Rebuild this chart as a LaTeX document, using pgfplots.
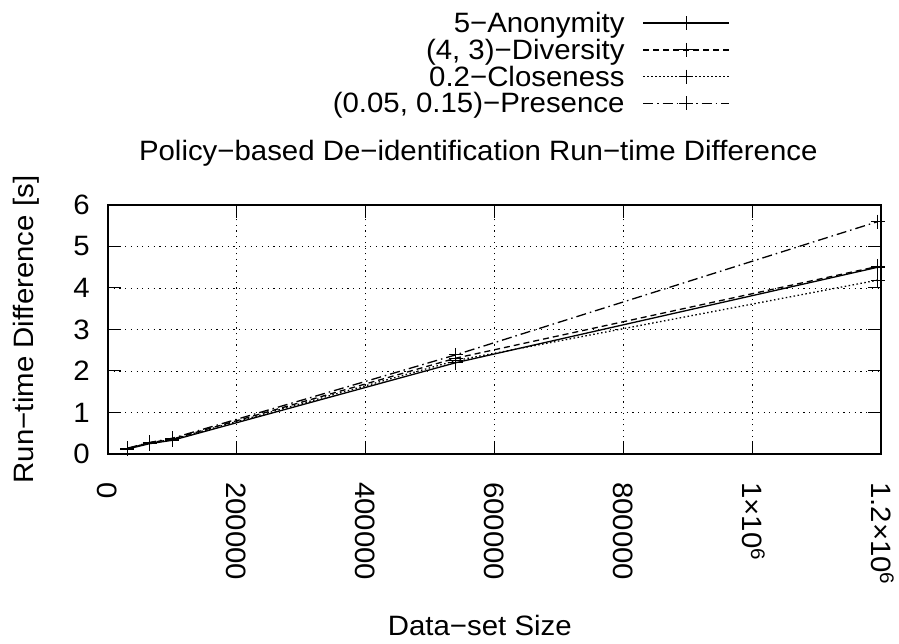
\documentclass[border=0pt]{standalone}
\usepackage{fontspec}
\setmainfont{Liberation Sans}[FakeStretch=1.05]
\usepackage{pgfplots}
\pgfplotsset{compat=1.18}
\newcommand\fsz{\fontsize{28}{33}\selectfont}
\begin{document}
\begin{tikzpicture}
\useasboundingbox (0,0) rectangle (899pt,644pt);
\begin{axis}[
  at={(108pt,190pt)}, anchor=south west,
  scale only axis, width=773pt, height=249pt,
  xmin=0, xmax=1200000, ymin=0, ymax=6,
  scaled x ticks=false, scaled y ticks=false,
  xtick={0,200000,400000,600000,800000,1000000,1200000},
  xticklabels={0,200000,400000,600000,800000,1×10\textsuperscript{6},1.2×10\textsuperscript{6}},
  ytick={0,1,2,3,4,5,6},
  yticklabels={0,1,2,3,4,5,6},
  tick label style={font=\fsz},
  xticklabel style={rotate=-90, anchor=west, inner sep=0pt, text height=20pt, text depth=0pt},
  xticklabel shift=28pt,
  yticklabel style={anchor=east, inner sep=0pt},
  yticklabel shift=18pt,
  tick align=inside, major tick length=13pt,
  xtick pos=both, ytick pos=both,
  tick style={black, line width=1pt},
  axis line style={line width=2pt},
  grid=major,
  major grid style={black, line width=0.9pt, dash pattern=on 1.2pt off 4.5pt},
  title={Policy−based De−identification Run−time Difference},
  title style={font=\fsz, at={(axis description cs:0.479,1)}, anchor=base, yshift=38pt, inner sep=0pt},
  xlabel={Data−set Size},
  xlabel style={font=\fsz, at={(axis description cs:0.481,0)}, anchor=base, yshift=-182pt, inner sep=0pt},
  ylabel={Run−time Difference [s]},
  ylabel style={font=\fsz, at={(axis description cs:-0.097,0.5)}, anchor=base, inner sep=0pt},
  legend plot pos=right,
  legend cell align=right,
  legend style={draw=none, fill=none, font=\fsz,
    at={(axis description cs:0.8047,1.775)}, anchor=north east,
    inner sep=0pt, row sep=5pt, nodes={inner sep=0pt},
    /tikz/every odd column/.append style={column sep=18pt}},
  legend image code/.code={\draw[mark repeat=2,mark phase=2,#1] plot coordinates {(0pt,0pt)(43pt,0pt)(86pt,0pt)};},
  every axis plot/.append style={black, line width=1.3pt, mark=+, mark size=7pt, mark options={solid, line width=1.1pt}},
]
\addplot[solid] coordinates {(30162,0.12) (65000,0.25) (100000,0.33) (540000,2.20) (1195000,4.50)};
\addlegendentry{5−Anonymity}
\addplot[dash pattern=on 6pt off 4pt] coordinates {(30162,0.13) (65000,0.27) (100000,0.36) (540000,2.31) (1195000,4.52)};
\addlegendentry{(4, 3)−Diversity}
\addplot[dash pattern=on 1.5pt off 2.5pt] coordinates {(30162,0.13) (65000,0.27) (100000,0.35) (540000,2.25) (1195000,4.19)};
\addlegendentry{0.2−Closeness}
\addplot[dash pattern=on 10pt off 4pt on 1.5pt off 4pt] coordinates {(30162,0.14) (65000,0.28) (100000,0.38) (540000,2.39) (1195000,5.60)};
\addlegendentry{(0.05, 0.15)−Presence}
\end{axis}
\end{tikzpicture}
\end{document}
